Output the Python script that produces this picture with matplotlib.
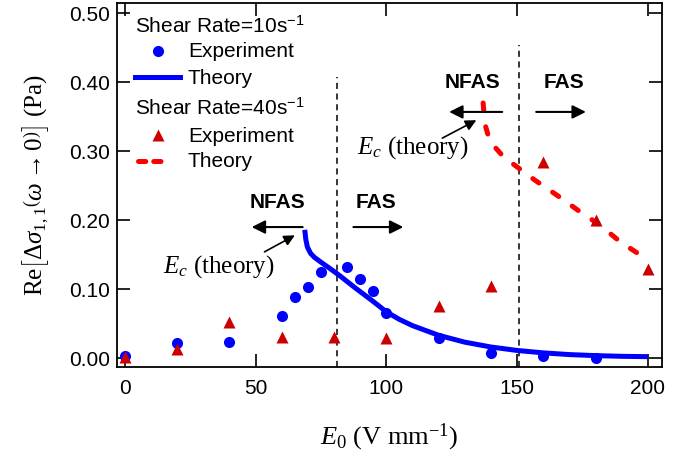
import matplotlib
matplotlib.use("Agg")
import matplotlib.pyplot as plt
from matplotlib.ticker import FormatStrFormatter

plt.rcParams['font.family'] = ['Liberation Sans', 'DejaVu Sans']
plt.rcParams['mathtext.fontset'] = 'custom'
plt.rcParams['mathtext.rm'] = 'Liberation Serif'
plt.rcParams['mathtext.it'] = 'Liberation Serif:italic'
plt.rcParams['mathtext.bf'] = 'Liberation Serif:bold'
plt.rcParams['mathtext.sf'] = 'Liberation Sans'

# ---- data ----
exp10_x = [0, 20, 40, 60, 65, 70, 75, 85, 90, 95, 100, 120, 140, 160, 180]
exp10_y = [0.003, 0.022, 0.023, 0.061, 0.088, 0.103, 0.125, 0.132, 0.114, 0.097,
           0.065, 0.029, 0.008, 0.003, 0.0]

exp40_x = [0, 20, 40, 60, 80, 100, 120, 140, 160, 180, 200]
exp40_y = [0.001, 0.013, 0.052, 0.031, 0.031, 0.029, 0.075, 0.105, 0.284, 0.200, 0.129]

th10_x = [68.8, 69.2, 69.8, 71.0, 72.5, 75.0, 78.0, 82.0, 88.0, 95.0, 100.0, 105.0,
          110.0, 115.0, 120.0, 130.0, 140.0, 150.0, 160.0, 170.0, 180.0, 190.0, 200.0]
th10_y = [0.186, 0.172, 0.161, 0.152, 0.146, 0.139, 0.131, 0.120, 0.102, 0.082, 0.067,
          0.056, 0.047, 0.040, 0.033, 0.023, 0.016, 0.011, 0.0075, 0.005, 0.0035,
          0.0025, 0.002]

th40_x = [137.0, 137.3, 137.8, 139.0, 141.5, 145.0, 149.0, 156.8, 165.3, 173.4,
          181.6, 189.3, 198.5]
th40_y = [0.370, 0.356, 0.338, 0.322, 0.306, 0.291, 0.280, 0.258, 0.236, 0.214,
          0.193, 0.169, 0.146]

ec_lines = [81.3, 150.8]
ec_tops = [0.407, 0.454]

xticks = [0, 50, 100, 150, 200]
yticks = [0.0, 0.1, 0.2, 0.3, 0.4, 0.5]

BLUE = '#0000ff'
DRED = '#cc0000'
RED = '#ff0000'

fig = plt.figure(figsize=(6.9, 4.57), dpi=100)
ax = fig.add_axes([117/690, 1-367/457, 545/690, 364/457])
ax.set_xlim(-3.0, 205.4)
ax.set_ylim(-0.013, 0.515)

ax.vlines(ec_lines, -0.013, ec_tops, colors='k', linestyles=(0, (4, 3)), lw=1.1, zorder=1)

ax.plot(th10_x, th10_y, color=BLUE, lw=3.6, solid_capstyle='butt', zorder=3)
ax.plot(th40_x, th40_y, color=RED, lw=3.6, ls=(0, (1.5, 3.3)),
        dash_capstyle='round', zorder=3)
ax.plot(exp10_x, exp10_y, 'o', color=BLUE, ms=8, mec='none', zorder=4)
ax.plot(exp40_x, exp40_y, '^', color=DRED, ms=8.5, mec='none', zorder=4)

# ticks
ax.set_xticks(xticks)
ax.set_yticks(yticks)
ax.yaxis.set_major_formatter(FormatStrFormatter('%.2f'))
ax.tick_params(direction='in', length=9.5, width=1.2, top=True, right=True,
               labelsize=15, colors='k')
ax.tick_params(axis='x', pad=9)
ax.tick_params(axis='y', pad=5)
for s in ax.spines.values():
    s.set_linewidth(1.3)

ax.set_xlabel(r'$E_0$ (V mm$^{\mathrm{-1}}$)', family='Liberation Serif', fontsize=19,
              labelpad=17)
ax.set_ylabel(r'$\mathrm{Re}\left[\Delta\sigma_{1,1}\left(\omega\rightarrow0\right)\right]$ (Pa)',
              family='Liberation Serif', fontsize=18, labelpad=13)

# manual legend
tr = ax.transAxes
fs = 15
lx0, lx1, tx = 0.033, 0.1156, 0.130
ax.text(lx0, 0.9195, r'Shear Rate=10s$^{\mathsf{-1}}$', transform=tr, fontsize=fs, va='baseline')
ax.plot([0.0752], [0.869], 'o', color=BLUE, ms=8, mec='none', transform=tr, clip_on=False)
ax.text(tx, 0.851, 'Experiment', transform=tr, fontsize=fs, va='baseline')
ax.plot([lx0, lx1], [0.796, 0.796], color=BLUE, lw=3.6, transform=tr)
ax.text(tx, 0.777, 'Theory', transform=tr, fontsize=fs, va='baseline')
ax.text(lx0, 0.692, r'Shear Rate=40s$^{\mathsf{-1}}$', transform=tr, fontsize=fs, va='baseline')
ax.plot([0.0752], [0.637], '^', color=DRED, ms=8.5, mec='none', transform=tr, clip_on=False)
ax.text(tx, 0.619, 'Experiment', transform=tr, fontsize=fs, va='baseline')
ax.plot([lx0 + 0.006, 0.088], [0.566, 0.566], color=RED, lw=3.6, ls=(0, (1.45, 1.6)),
        dash_capstyle='round', transform=tr)
ax.text(tx, 0.550, 'Theory', transform=tr, fontsize=fs, va='baseline')

# annotations
aprops = dict(arrowstyle='-|>', color='k', lw=1.5, mutation_scale=20, shrinkA=0, shrinkB=0)
ax.text(58.4, 0.226, 'NFAS', fontsize=15, fontweight='bold', ha='center', va='center')
ax.text(96.2, 0.226, 'FAS', fontsize=15, fontweight='bold', ha='center', va='center')
ax.annotate('', xy=(48.5, 0.190), xytext=(68.0, 0.190), arrowprops=aprops)
ax.annotate('', xy=(106.5, 0.190), xytext=(87.4, 0.190), arrowprops=aprops)

ax.text(132.8, 0.399, 'NFAS', fontsize=15, fontweight='bold', ha='center', va='center')
ax.text(168.0, 0.399, 'FAS', fontsize=15, fontweight='bold', ha='center', va='center')
ax.annotate('', xy=(124.0, 0.357), xytext=(144.3, 0.357), arrowprops=aprops)
ax.annotate('', xy=(176.3, 0.357), xytext=(157.3, 0.357), arrowprops=aprops)

eprops = dict(arrowstyle='-|>', color='k', lw=1.2, mutation_scale=16, shrinkA=0, shrinkB=0)
ax.text(36.0, 0.132, r'$E_c$ (theory)', family='Liberation Serif', fontsize=18,
        ha='center', va='center')
ax.annotate('', xy=(65.0, 0.178), xytext=(53.4, 0.154), arrowprops=eprops)
ax.text(110.0, 0.306, r'$E_c$ (theory)', family='Liberation Serif', fontsize=18,
        ha='center', va='center')
ax.annotate('', xy=(134.4, 0.345), xytext=(121.4, 0.319), arrowprops=eprops)

fig.savefig('out.png', dpi=100)
